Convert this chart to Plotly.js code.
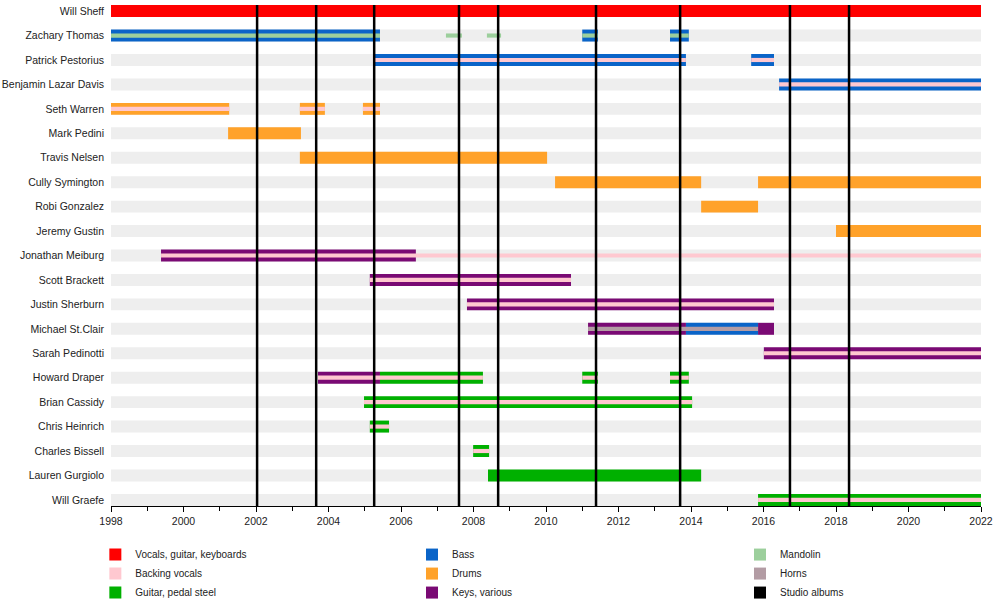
<!DOCTYPE html>
<html>
<head>
<meta charset="utf-8">
<script src="https://cdn.plot.ly/plotly-3.0.1.min.js"></script>
<style>body{margin:0;background:#fff}#plotDiv{width:1000px;height:615px}</style>
</head>
<body>
<div id="plotDiv"></div>
<script>
var members = ["Will Sheff", "Zachary Thomas", "Patrick Pestorius", "Benjamin Lazar Davis", "Seth Warren",
  "Mark Pedini", "Travis Nelsen", "Cully Symington", "Robi Gonzalez", "Jeremy Gustin", "Jonathan Meiburg",
  "Scott Brackett", "Justin Sherburn", "Michael St.Clair", "Sarah Pedinotti", "Howard Draper",
  "Brian Cassidy", "Chris Heinrich", "Charles Bissell", "Lauren Gurgiolo", "Will Graefe"];

// [member, start, end]
var vocals = [["Will Sheff", 1998, 2022]];
var bass = [["Zachary Thomas", 1998, 2005.42], ["Zachary Thomas", 2011.0, 2011.43], ["Zachary Thomas", 2013.42, 2013.94],
  ["Patrick Pestorius", 2005.23, 2013.86], ["Patrick Pestorius", 2015.66, 2016.29],
  ["Benjamin Lazar Davis", 2016.43, 2022], ["Michael St.Clair", 2013.86, 2015.85]];
var drums = [["Seth Warren", 1998, 2001.26], ["Seth Warren", 2003.21, 2003.9], ["Seth Warren", 2004.95, 2005.42],
  ["Mark Pedini", 2001.23, 2003.24], ["Travis Nelsen", 2003.21, 2010.03],
  ["Cully Symington", 2010.25, 2014.28], ["Cully Symington", 2015.85, 2022],
  ["Robi Gonzalez", 2014.28, 2015.85], ["Jeremy Gustin", 2018.0, 2022]];
var keys = [["Jonathan Meiburg", 1999.38, 2006.41], ["Scott Brackett", 2005.14, 2010.69],
  ["Justin Sherburn", 2007.82, 2016.29], ["Michael St.Clair", 2011.16, 2013.86], ["Michael St.Clair", 2015.85, 2016.29],
  ["Sarah Pedinotti", 2016.01, 2022], ["Howard Draper", 2003.71, 2005.42]];
var guitar = [["Howard Draper", 2005.42, 2008.26], ["Howard Draper", 2011.0, 2011.43], ["Howard Draper", 2013.42, 2013.94],
  ["Brian Cassidy", 2004.98, 2014.03], ["Chris Heinrich", 2005.14, 2005.67], ["Charles Bissell", 2007.99, 2008.43],
  ["Lauren Gurgiolo", 2008.4, 2014.28], ["Will Graefe", 2015.85, 2022]];
var backing = [["Patrick Pestorius", 2005.23, 2013.86], ["Patrick Pestorius", 2015.66, 2016.29],
  ["Benjamin Lazar Davis", 2016.43, 2022], ["Seth Warren", 1998, 2001.26], ["Seth Warren", 2003.21, 2003.9],
  ["Seth Warren", 2004.95, 2005.42], ["Jonathan Meiburg", 1999.38, 2022], ["Scott Brackett", 2005.14, 2010.69],
  ["Justin Sherburn", 2007.82, 2016.29], ["Sarah Pedinotti", 2016.01, 2022], ["Howard Draper", 2003.71, 2008.26],
  ["Howard Draper", 2011.0, 2011.43], ["Howard Draper", 2013.42, 2013.94], ["Brian Cassidy", 2004.98, 2014.03],
  ["Chris Heinrich", 2005.14, 2005.67], ["Charles Bissell", 2007.99, 2008.43], ["Will Graefe", 2015.85, 2022]];
var mandolin = [["Zachary Thomas", 1998, 2005.42], ["Zachary Thomas", 2007.24, 2007.68], ["Zachary Thomas", 2008.37, 2008.76],
  ["Zachary Thomas", 2011.0, 2011.43], ["Zachary Thomas", 2013.42, 2013.94]];
var horns = [["Michael St.Clair", 2011.16, 2015.85]];
var albums = [2002.03, 2003.66, 2005.26, 2007.6, 2008.68, 2011.38, 2013.7, 2016.73, 2018.36];

function barTrace(rows, name, color, width, legend, rank, showlegend) {
  return {
    type: "bar", orientation: "h", name: name,
    y: rows.map(function (r) { return r[0]; }),
    base: rows.map(function (r) { return r[1]; }),
    x: rows.map(function (r) { return r[2] - r[1]; }),
    width: width, marker: { color: color, line: { width: 0 } },
    legend: legend, legendrank: rank, showlegend: showlegend !== false, hoverinfo: "skip"
  };
}

var bg = members.map(function (m) { return [m, 1998, 2022]; });
var data = [
  barTrace(bg, "bg", "#eeeeee", 0.49, "legend", 0, false),
  barTrace(vocals, "Vocals, guitar, keyboards", "#ff0000", 0.49, "legend", 1),
  barTrace(bass, "Bass", "#0a64c8", 0.49, "legend2", 1),
  barTrace(drums, "Drums", "#ffa22a", 0.49, "legend2", 2),
  barTrace(keys, "Keys, various", "#7a0a74", 0.49, "legend2", 3),
  barTrace(guitar, "Guitar, pedal steel", "#00b000", 0.49, "legend", 3),
  barTrace(backing, "Backing vocals", "#ffc8d0", 0.17, "legend", 2),
  barTrace(mandolin, "Mandolin", "#9ccf9c", 0.17, "legend3", 1),
  barTrace(horns, "Horns", "#b39ca4", 0.17, "legend3", 2),
  barTrace([["Will Sheff", albums[0], albums[0]]], "Studio albums", "#000000", 0.49, "legend3", 3)
];

var shapes = albums.map(function (a) {
  return { type: "line", xref: "x", yref: "paper", x0: a, x1: a, y0: 0, y1: 1,
    line: { color: "#000", width: 2.5 }, layer: "above" };
});

function legendAt(x) {
  return { orientation: "v", x: x, xanchor: "left", y: -0.068, yanchor: "top",
    traceorder: "normal", tracegroupgap: 0, font: { size: 10 }, itemclick: false, bgcolor: "rgba(0,0,0,0)" };
}

var layout = {
  width: 1000, height: 615,
  margin: { t: 5, b: 109, l: 111, r: 19, autoexpand: false },
  barmode: "overlay",
  font: { family: "Liberation Sans, Arial, sans-serif", size: 10.5, color: "#222" },
  paper_bgcolor: "#fff", plot_bgcolor: "#fff",
  xaxis: {
    range: [1998, 2022], dtick: 2, tick0: 1998, ticks: "outside", ticklen: 5, tickcolor: "#000",
    showgrid: false, zeroline: false, showline: true, linecolor: "#000", linewidth: 1, automargin: false,
    minor: { dtick: 1, ticks: "outside", ticklen: 4, tickcolor: "#000" }
  },
  yaxis: {
    type: "category", categoryorder: "array", categoryarray: members, automargin: false,
    range: [20.25, -0.25], showgrid: false, zeroline: false, ticks: "", ticklabelstandoff: 6
  },
  showlegend: true,
  legend: legendAt(-0.018),
  legend2: legendAt(0.346),
  legend3: legendAt(0.723),
  shapes: shapes
};

Plotly.newPlot("plotDiv", data, layout, { displayModeBar: false, staticPlot: true });
</script>
</body>
</html>
